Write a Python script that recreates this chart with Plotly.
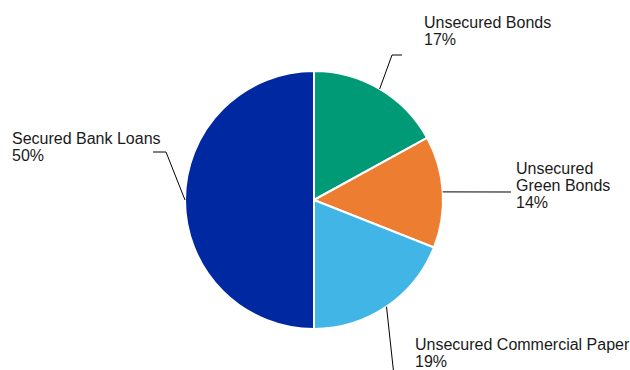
import math
import plotly.graph_objects as go

# ---- data ----
labels = ["Unsecured Bonds", "Unsecured Green Bonds", "Unsecured Commercial Paper", "Secured Bank Loans"]
label_lines = [["Unsecured Bonds"], ["Unsecured", "Green Bonds"], ["Unsecured Commercial Paper"], ["Secured Bank Loans"]]
values = [17, 14, 19, 50]
colors = ["#009A77", "#ED7D31", "#41B6E6", "#0028A0"]

# ---- layout constants (pixels) ----
W, H = 630, 370
CX, CY, R = 314, 200, 129
# elbow point, line end, text left x, first text line y (pixel)
label_geo = [
    dict(elbow=(392, 55), end=(402, 55), tx=422, ty=22),
    dict(elbow=(511, 192), end=(511, 192), tx=514, ty=168),
    dict(elbow=(395, 385), end=(395, 385), tx=413, ty=344),
    dict(elbow=(166, 152), end=(153, 152), tx=10, ty=138),
]
LINE_H = 17.5

def px(x):
    return x / W

def py(y):
    return 1 - y / H

fig = go.Figure(go.Pie(
    labels=labels,
    values=values,
    marker=dict(colors=colors, line=dict(color="white", width=2)),
    sort=False,
    direction="clockwise",
    rotation=0,
    textinfo="none",
    hoverinfo="label+percent",
    showlegend=False,
    domain=dict(x=[px(CX - R), px(CX + R)], y=[py(CY + R), py(CY - R)]),
))

total = sum(values)
cum = 0
shapes = []
annotations = []
for i, v in enumerate(values):
    mid = (cum + v / 2) / total * 2 * math.pi
    cum += v
    ax = CX + R * math.sin(mid)
    ay = CY - R * math.cos(mid)
    g = label_geo[i]
    pts = [(ax, ay), g["elbow"], g["end"]]
    path = "M " + " L ".join(f"{px(x)},{py(y)}" for x, y in pts)
    shapes.append(dict(type="path", xref="paper", yref="paper", path=path,
                       line=dict(color="black", width=1)))
    pct = round(v / total * 100)
    lines = label_lines[i] + [f"{pct}%"]
    for k, t in enumerate(lines):
        annotations.append(dict(
            text=t, xref="paper", yref="paper",
            x=px(g["tx"]), y=py(g["ty"] + k * LINE_H),
            xanchor="left", yanchor="middle", showarrow=False,
            font=dict(family="Liberation Sans, Arial, sans-serif", size=16, color="#1a1a1a"),
        ))

fig.update_layout(
    width=W, height=H,
    margin=dict(l=0, r=0, t=0, b=0),
    paper_bgcolor="white",
    plot_bgcolor="white",
    shapes=shapes,
    annotations=annotations,
)

fig.write_html("out.html")
